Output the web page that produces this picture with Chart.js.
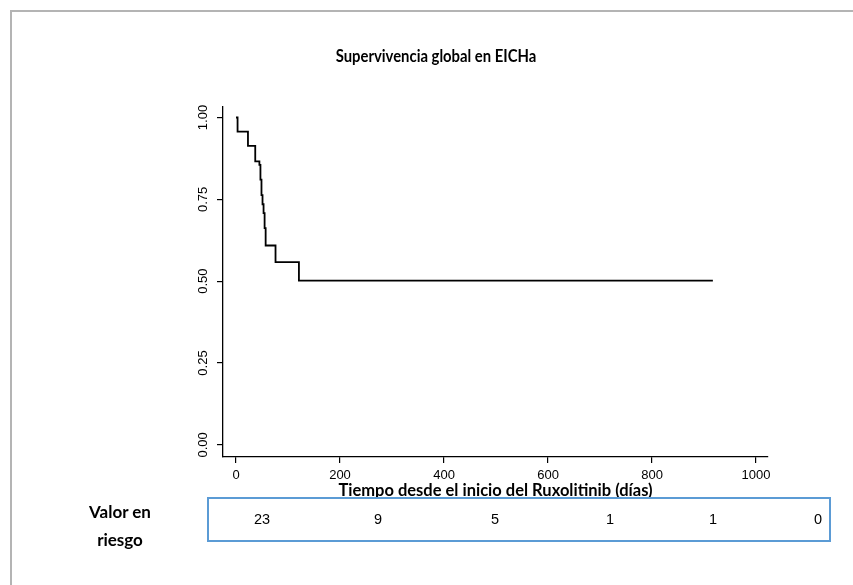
<!DOCTYPE html>
<html lang="es">
<head>
<meta charset="utf-8">
<script src="https://cdn.jsdelivr.net/npm/chart.js@4.4.1/dist/chart.umd.min.js"></script>
<style>
  html, body { margin: 0; padding: 0; background: #fff; }
  #wrap { position: relative; width: 853px; height: 585px; overflow: hidden; background: #fff; }
  #frame { position: absolute; left: 10px; top: 10px; width: 900px; height: 700px;
           border-left: 2px solid #b4b4b4; border-top: 2px solid #b4b4b4; box-sizing: border-box; }
  #chart { position: absolute; left: 0; top: 0; }
  .txt { position: absolute; font-family: Lato, "Open Sans", sans-serif; font-weight: bold; color: #000; white-space: nowrap; }
  #title { left: 436px; top: 56px; transform: translate(-50%, -50%) scaleX(0.9); font-size: 16.5px; }
  #riskLabel { left: 120px; top: 526px; transform: translate(-50%, -50%); font-size: 17px; text-align: center; line-height: 28px; }
  #riskBox { position: absolute; left: 207px; top: 497px; width: 624px; height: 45px;
             border: 2px solid #5b9bd5; box-sizing: border-box; }
  .risk { position: absolute; top: 519px; transform: translate(-50%, -50%);
          font-family: "Liberation Sans", Arial, sans-serif; font-size: 14.5px; color: #000; }
</style>
</head>
<body>
<div id="wrap">
  <div id="frame"></div>
  <canvas id="chart" width="853" height="585"></canvas>
  <div id="title" class="txt">Supervivencia global en EICHa</div>
  <div id="riskLabel" class="txt">Valor en<br>riesgo</div>
  <div id="riskBox"></div>
</div>
<script>
// Kaplan-Meier estimate: event times (days) and survival after each step
const days     = [0, 3, 23, 37, 45, 47, 49, 51, 53, 55, 57, 76, 121, 917];
const survival = [1, 0.957, 0.913, 0.866, 0.855, 0.81, 0.763, 0.735, 0.708, 0.662, 0.609, 0.558, 0.502, 0.502];

// axis ticks
const xTicks = [0, 200, 400, 600, 800, 1000];
const yTicks = [0, 0.25, 0.5, 0.75, 1];

// number at risk table
const atRisk = [23, 9, 5, 1, 1, 0];

// column centres of the at-risk table (layout)
const riskColumnX = [262, 378, 495, 610, 713, 818];

const wrap = document.getElementById('wrap');
atRisk.forEach((n, i) => {
  const d = document.createElement('div');
  d.className = 'risk';
  d.style.left = riskColumnX[i] + 'px';
  d.textContent = String(n);
  wrap.appendChild(d);
});

const tickFont = { family: '"Liberation Sans", Arial, sans-serif', size: 13 };

new Chart(document.getElementById('chart'), {
  type: 'line',
  data: {
    datasets: [{
      data: days.map((d, i) => ({ x: d, y: survival[i] })),
      stepped: true,
      borderColor: '#000',
      borderWidth: 1.8,
      pointRadius: 0,
      fill: false
    }]
  },
  options: {
    responsive: false,
    animation: false,
    events: [],
    layout: { padding: { left: 10, top: 107, right: 85, bottom: 83 } },
    plugins: { legend: { display: false }, tooltip: { enabled: false }, title: { display: false } },
    scales: {
      x: {
        type: 'linear',
        min: -25,
        max: 1023,
        afterBuildTicks: s => { s.ticks = xTicks.map(v => ({ value: v })); },
        afterFit: s => { s.height = 45; },
        border: { display: true, color: '#000', width: 1.3 },
        grid: { display: true, drawOnChartArea: false, drawTicks: true, tickLength: 6, color: '#000', lineWidth: 1.2 },
        ticks: { color: '#000', font: tickFont, padding: 5, maxRotation: 0, autoSkip: false,
                 callback: v => String(v) },
        title: {
          display: true,
          text: 'Tiempo desde el inicio del Ruxolitinib (días)',
          color: '#000',
          font: { family: 'Lato, "Open Sans", sans-serif', size: 16.5, weight: 'bold' },
          padding: { top: 0, bottom: 1 }
        }
      },
      y: {
        type: 'linear',
        min: -0.037,
        max: 1.032,
        afterBuildTicks: s => { s.ticks = yTicks.map(v => ({ value: v })); },
        afterFit: s => { s.width = 213; },
        border: { display: true, color: '#000', width: 1.3 },
        grid: { display: true, drawOnChartArea: false, drawTicks: true, tickLength: 6, color: '#000', lineWidth: 1.2 },
        ticks: {
          color: '#000', font: tickFont, padding: 1,
          minRotation: 90, maxRotation: 90, crossAlign: 'center', autoSkip: false,
          callback: v => Number(v).toFixed(2)
        }
      }
    }
  }
});
</script>
</body>
</html>
